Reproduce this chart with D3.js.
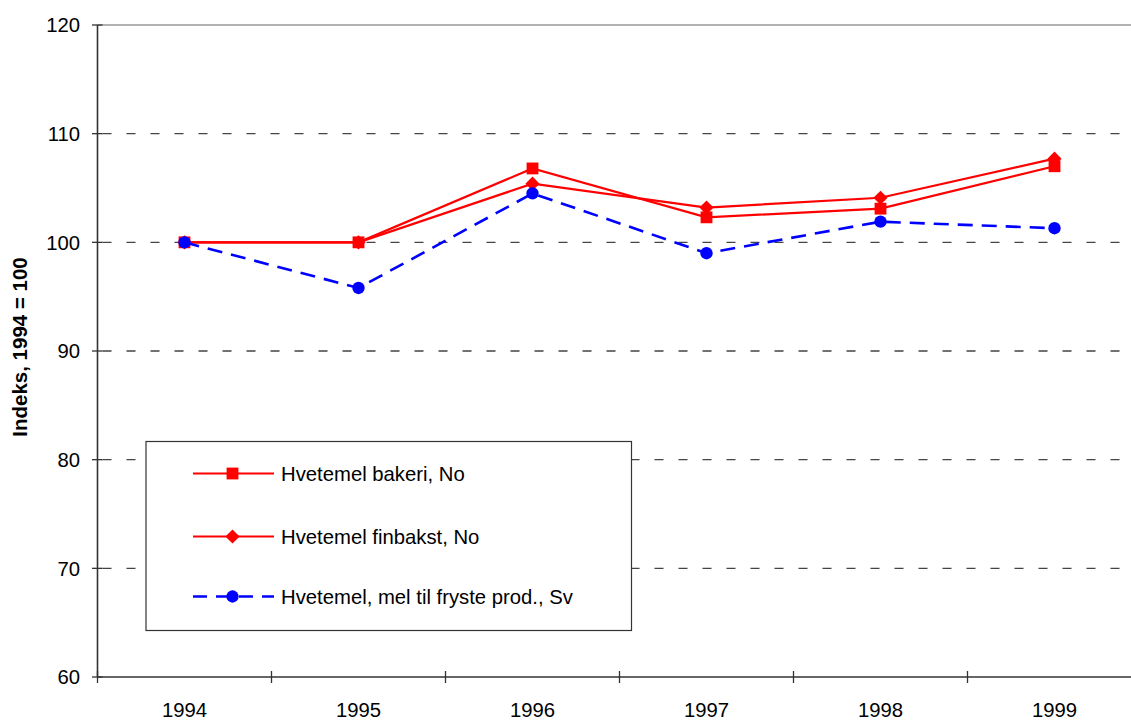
<!DOCTYPE html>
<html>
<head>
<meta charset="utf-8">
<script src="https://cdn.jsdelivr.net/npm/d3@7"></script>
<style>
  body { margin: 0; background: #fff; }
  svg { display: block; font-family: "Liberation Sans", Arial, sans-serif; }
</style>
</head>
<body>
<div id="chart"></div>
<script>
// data
var years = ["1994", "1995", "1996", "1997", "1998", "1999"];
var bakeri = [100, 100, 106.8, 102.3, 103.1, 107.0];
var finbakst = [100, 100, 105.4, 103.2, 104.1, 107.7];
var frysteSv = [100, 95.8, 104.5, 99.0, 101.9, 101.3];
var yTicks = [60, 70, 80, 90, 100, 110, 120];
var seriesNames = ["Hvetemel bakeri, No", "Hvetemel finbakst, No", "Hvetemel, mel til fryste prod., Sv"];

var width = 1131, height = 720;
var margin = { left: 97.5, top: 25 };
var step = 174;

var svg = d3.select("#chart").append("svg")
    .attr("width", width)
    .attr("height", height);

var x = d3.scalePoint().domain(years)
    .range([margin.left + step / 2, margin.left + step * (years.length - 0.5)]);
var y = d3.scaleLinear().domain([60, 120]).range([677, margin.top]);
var plotRight = margin.left + step * years.length;

// gridlines
svg.append("g").selectAll("line")
    .data(yTicks.filter(function(d){ return d > 60 && d < 120; }))
    .enter().append("line")
    .attr("x1", margin.left).attr("x2", plotRight)
    .attr("y1", function(d){ return y(d); }).attr("y2", function(d){ return y(d); })
    .attr("stroke", "#444").attr("stroke-width", 1.3)
    .attr("stroke-dasharray", "9,15").attr("stroke-dashoffset", -5);

// top border
svg.append("line")
    .attr("x1", margin.left).attr("x2", plotRight)
    .attr("y1", y(120)).attr("y2", y(120))
    .attr("stroke", "#999").attr("stroke-width", 1.5);

// axes
var axisColor = "#333";
svg.append("line")
    .attr("x1", margin.left).attr("x2", margin.left)
    .attr("y1", y(120)).attr("y2", y(60))
    .attr("stroke", axisColor).attr("stroke-width", 1.6);
svg.append("line")
    .attr("x1", margin.left).attr("x2", plotRight)
    .attr("y1", y(60)).attr("y2", y(60))
    .attr("stroke", axisColor).attr("stroke-width", 1.6);

svg.append("g").selectAll("line")
    .data(yTicks).enter().append("line")
    .attr("x1", margin.left - 5.5).attr("x2", margin.left + 5)
    .attr("y1", function(d){ return y(d); }).attr("y2", function(d){ return y(d); })
    .attr("stroke", axisColor).attr("stroke-width", 1.3);

svg.append("g").selectAll("text")
    .data(yTicks).enter().append("text")
    .attr("x", 80).attr("y", function(d){ return y(d); })
    .attr("dy", "0.36em")
    .attr("text-anchor", "end")
    .attr("font-size", 20.3).attr("fill", "#000")
    .text(function(d){ return d; });

// x ticks at category boundaries
var bounds = d3.range(years.length + 1).map(function(i){ return x(years[0]) - step / 2 + i * step; });
svg.append("g").selectAll("line")
    .data(bounds).enter().append("line")
    .attr("x1", function(d){ return d; }).attr("x2", function(d){ return d; })
    .attr("y1", y(60) - 6).attr("y2", y(60) + 6)
    .attr("stroke", axisColor).attr("stroke-width", 1.3);

svg.append("g").selectAll("text")
    .data(years).enter().append("text")
    .attr("x", function(d){ return x(d); })
    .attr("y", 717)
    .attr("text-anchor", "middle")
    .attr("font-size", 20.3).attr("fill", "#000")
    .text(function(d){ return d; });

// y axis title
svg.append("text")
    .attr("transform", "translate(27,347) rotate(-90)")
    .attr("text-anchor", "middle")
    .attr("font-size", 20.5).attr("font-weight", "bold")
    .text("Indeks, 1994 = 100");

// series
var series = [
    { name: seriesNames[0], values: bakeri, color: "#ff0000", dash: null, width: 2.2, marker: "square" },
    { name: seriesNames[1], values: finbakst, color: "#ff0000", dash: null, width: 2.2, marker: "diamond" },
    { name: seriesNames[2], values: frysteSv, color: "#0000ff", dash: "15,9", width: 2.6, marker: "circle" }
];

// the diamond is a square turned 45 degrees
var symbols = {
    square: { path: d3.symbol().type(d3.symbolSquare).size(140), rot: 0 },
    diamond: { path: d3.symbol().type(d3.symbolSquare).size(100), rot: 45 },
    circle: { path: d3.symbol().type(d3.symbolCircle).size(120), rot: 0 }
};

var line = d3.line()
    .x(function(d, i){ return x(years[i]); })
    .y(function(d){ return y(d); });

series.forEach(function(s){
    var g = svg.append("g");
    var sym = symbols[s.marker];
    g.append("path")
        .attr("d", line(s.values))
        .attr("fill", "none")
        .attr("stroke", s.color)
        .attr("stroke-width", s.width)
        .attr("stroke-dasharray", s.dash);
    g.selectAll("path.pt")
        .data(s.values).enter().append("path")
        .attr("class", "pt")
        .attr("transform", function(d, i){
            return "translate(" + x(years[i]) + "," + y(d) + ") rotate(" + sym.rot + ")";
        })
        .attr("d", sym.path())
        .attr("fill", s.color);
});

// legend
var legend = svg.append("g");
legend.append("rect")
    .attr("x", 146).attr("y", 441.5)
    .attr("width", 485.5).attr("height", 189)
    .attr("fill", "#fff").attr("stroke", "#333").attr("stroke-width", 1.2);

var rowY = [473.5, 536.5, 596.5];
series.forEach(function(s, i){
    var sym = symbols[s.marker];
    legend.append("line")
        .attr("x1", 193).attr("x2", 274)
        .attr("y1", rowY[i]).attr("y2", rowY[i])
        .attr("stroke", s.color).attr("stroke-width", s.width)
        .attr("stroke-dasharray", s.dash ? "14,9" : null);
    legend.append("path")
        .attr("transform", "translate(232.5," + rowY[i] + ") rotate(" + sym.rot + ")")
        .attr("d", sym.path())
        .attr("fill", s.color);
    legend.append("text")
        .attr("x", 281).attr("y", rowY[i])
        .attr("dy", "0.36em")
        .attr("font-size", 20.3)
        .text(s.name);
});
</script>
</body>
</html>
